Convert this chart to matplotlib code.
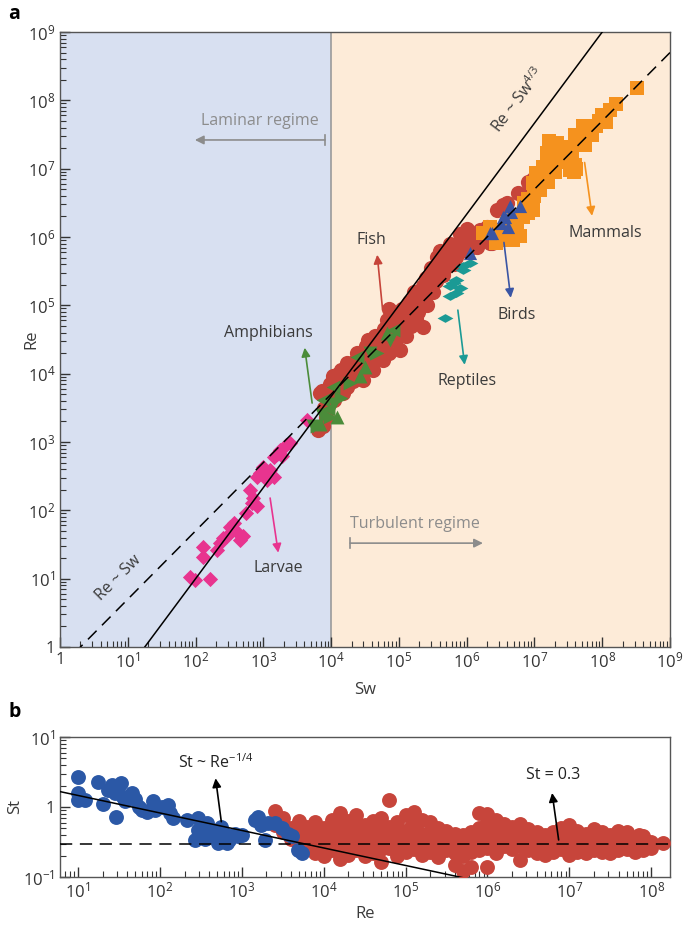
import numpy as np
import matplotlib
matplotlib.use('Agg')
import matplotlib.pyplot as plt
from matplotlib.ticker import LogLocator, FuncFormatter, NullFormatter

plt.rcParams['font.family'] = ['Open Sans', 'DejaVu Sans']
plt.rcParams['mathtext.fontset'] = 'custom'
plt.rcParams['mathtext.rm'] = 'Open Sans'
plt.rcParams['mathtext.it'] = 'Open Sans:italic'
plt.rcParams['mathtext.bf'] = 'Open Sans:bold'

# ---------------- Panel a data: (log10 Sw, log10 Re) ----------------
larvae_lsw = [1.92, 1.99, 2.21, 2.11, 2.11, 2.31, 2.36, 2.46, 2.51, 2.56, 2.65, 2.70, 2.75, 2.83,
              2.90, 2.85, 2.90, 2.95, 3.00, 3.05, 3.10, 3.15, 3.20, 3.24, 3.34, 3.39, 3.15, 3.64,
              2.40, 2.60, 2.80, 3.28]
larvae_lre = [1.03, 0.98, 1.00, 1.47, 1.32, 1.42, 1.52, 1.62, 1.76, 1.81, 1.57, 1.62, 1.96, 2.11,
              2.06, 2.18, 2.49, 2.54, 2.64, 2.45, 2.59, 2.78, 2.83, 2.88, 2.96, 2.98, 2.49, 3.32,
              1.60, 1.70, 2.30, 2.80]

amph_lsw = [3.74, 3.79, 3.83, 3.88, 3.86, 3.98, 4.08, 4.03, 4.05, 4.28, 4.42, 4.38, 4.57, 4.67,
            4.82, 4.92, 4.87, 4.15, 4.50, 3.95]
amph_lre = [3.23, 3.23, 3.26, 3.62, 3.40, 3.37, 3.37, 3.81, 3.55, 3.86, 3.96, 4.25, 4.30, 4.30,
            4.59, 4.64, 4.49, 3.65, 4.10, 3.48]

fish_lsw = [3.81, 3.86, 3.88, 3.93, 3.83, 3.95, 4.03, 4.00, 4.08, 4.12, 4.15, 4.23, 4.23, 4.20,
            4.30, 4.35, 4.40, 4.47, 4.45, 4.52, 4.52, 4.58, 4.62, 4.62, 4.67, 4.70, 4.77, 4.75,
            4.82, 4.80, 4.87, 4.90, 4.85, 4.97, 5.01, 5.00, 5.05, 5.11, 5.10, 5.18, 5.20, 5.26,
            5.25, 5.30, 5.36, 5.36, 5.40, 5.45, 5.51, 5.50, 5.56, 5.58, 5.62, 5.65, 5.70, 5.72,
            5.78, 5.80, 5.85, 5.88, 5.95, 5.95, 6.05, 6.00, 6.10, 6.15, 6.20, 6.34, 6.37, 6.30,
            6.54, 6.86, 6.93, 6.90, 7.08, 7.00,
            3.90, 3.98, 4.05, 4.10, 4.18, 4.28, 4.33, 4.38, 4.42, 4.55, 4.60, 4.65, 4.72, 4.78,
            4.85, 4.92, 4.95, 5.05, 5.08, 5.15, 5.15, 5.22, 5.28, 5.33, 5.40, 5.42, 5.48, 5.55,
            5.60, 5.68, 5.75, 5.82, 5.90, 6.00, 6.08, 6.25, 6.45, 6.60, 6.75, 6.98]
fish_lre = [3.18, 3.74, 3.23, 3.37, 3.71, 3.60, 3.96, 3.75, 3.70, 3.88, 4.05, 3.81, 4.15, 3.95,
            4.02, 4.18, 4.10, 3.91, 4.28, 4.25, 4.40, 4.12, 4.06, 4.35, 4.40, 4.22, 4.20, 4.52,
            4.79, 4.40, 4.49, 4.65, 4.95, 4.79, 4.35, 4.60, 4.75, 4.89, 4.55, 4.70, 4.95, 5.08,
            4.80, 5.00, 4.69, 5.28, 5.15, 5.30, 5.42, 5.20, 5.71, 5.50, 5.60, 5.45, 5.62, 5.80,
            5.70, 5.76, 5.71, 5.90, 6.01, 5.85, 6.06, 5.80, 5.95, 5.86, 6.10, 5.91, 5.91, 6.15,
            6.47, 6.59, 6.69, 6.80, 6.89, 6.75,
            3.50, 3.85, 3.62, 4.00, 3.72, 4.10, 3.90, 4.30, 4.02, 4.50, 4.20, 4.55, 4.35, 4.65,
            4.30, 4.85, 4.50, 4.95, 4.65, 5.05, 4.80, 5.20, 4.90, 5.20, 5.40, 5.00, 5.55, 5.35,
            5.80, 5.55, 5.90, 5.60, 6.05, 6.12, 5.85, 6.00, 6.40, 6.50, 6.65, 6.85]

rept_lsw = [6.05, 5.95, 5.85, 5.75, 5.85, 5.75, 5.90, 5.68, 5.95, 5.80]
rept_lre = [5.62, 5.52, 5.37, 5.28, 5.18, 5.13, 5.25, 4.81, 5.57, 5.32]

bird_lsw = [6.05, 6.34, 6.37, 6.51, 6.56, 6.61, 6.66, 6.78, 6.64, 6.54]
bird_lre = [5.76, 6.06, 6.06, 6.20, 6.30, 6.15, 6.37, 6.45, 6.45, 6.30]

mamm_lsw = [8.51, 8.11, 8.06, 8.00, 7.91, 7.82, 7.72, 7.67, 7.60, 7.52, 7.47, 7.42, 7.37, 7.33,
            7.28, 7.23, 7.18, 7.13, 7.08, 7.03, 6.98, 6.98, 6.90, 6.83, 6.78, 6.74, 6.69, 6.64,
            6.60, 6.44, 6.44, 6.34, 6.34, 6.24,
            7.95, 7.75, 7.55, 7.40, 7.30, 7.15, 7.00, 6.90, 6.85, 6.70, 6.55, 6.50, 7.60, 7.85,
            8.20, 7.25, 7.35, 7.20, 7.22, 7.15, 7.62, 7.58]
mamm_lre = [8.18, 7.86, 7.69, 7.78, 7.62, 7.57, 7.62, 7.42, 7.50, 6.98, 7.32, 7.15, 7.18, 7.37,
            7.05, 7.13, 7.23, 7.03, 6.69, 6.93, 6.79, 6.40, 6.55, 6.30, 6.01, 6.15, 5.96, 6.01,
            6.20, 5.91, 6.06, 6.15, 6.06, 6.06,
            7.70, 7.35, 7.25, 7.30, 6.95, 6.85, 6.60, 6.35, 6.50, 6.25, 6.10, 5.95, 7.05, 7.50,
            7.95, 7.25, 7.10, 6.80, 7.40, 6.95, 7.00, 6.95]

# ---------------- Panel b data: (log10 Re, log10 St) ----------------
b_blue_lre = [1.00, 1.00, 1.00, 1.09, 1.25, 1.31, 1.37, 1.41, 1.45, 1.47, 1.49, 1.53, 1.55, 1.57,
              1.66, 1.70, 1.74, 1.78, 1.84, 1.92, 1.94, 2.02, 2.10, 2.12, 2.16, 2.33, 2.47, 2.51,
              2.47, 2.59, 2.63, 2.67, 2.75, 2.80, 2.84, 2.92, 2.96, 3.00, 3.16, 3.20, 3.24, 3.28,
              3.32, 3.41, 3.49, 3.57, 3.61, 3.69, 3.73, 2.43, 2.55, 2.71, 2.82, 2.57]
b_blue_lst = [0.43, 0.20, 0.10, 0.10, 0.36, 0.05, 0.24, 0.31, 0.20, -0.14, 0.27, 0.34, 0.15, 0.08,
              0.20, 0.12, 0.00, -0.04, -0.07, 0.08, -0.04, 0.00, 0.03, -0.09, -0.16, -0.19, -0.16, -0.28,
              -0.33, -0.30, -0.38, -0.42, -0.28, -0.38, -0.47, -0.38, -0.42, -0.40, -0.19, -0.14, -0.26, -0.47,
              -0.23, -0.23, -0.30, -0.38, -0.42, -0.61, -0.66, -0.47, -0.45, -0.52, -0.52, -0.23]

b_red_lre = [3.4, 3.4, 3.5, 3.5, 3.6, 3.6, 3.7, 3.7, 3.7, 3.8, 3.8, 3.8, 3.9, 3.9, 3.9, 3.9,
             4.0, 4.0, 4.0, 4.0, 4.1, 4.1, 4.1, 4.1, 4.2, 4.2, 4.2, 4.2, 4.2, 4.3, 4.3, 4.3, 4.3,
             4.4, 4.4, 4.4, 4.4, 4.5, 4.5, 4.5, 4.5, 4.6, 4.6, 4.6, 4.6, 4.7, 4.7, 4.7, 4.7, 4.7,
             4.8, 4.8, 4.8, 4.8, 4.9, 4.9, 4.9, 4.9, 5.0, 5.0, 5.0, 5.0, 5.1, 5.1, 5.1, 5.1,
             5.2, 5.2, 5.2, 5.2, 5.3, 5.3, 5.3, 5.3, 5.4, 5.4, 5.4, 5.4, 5.5, 5.5, 5.5,
             5.6, 5.6, 5.6, 5.6, 5.7, 5.7, 5.7, 5.7, 5.8, 5.8, 5.8, 5.8, 5.9, 5.9, 5.9, 5.9,
             6.0, 6.0, 6.0, 6.0, 6.0, 6.1, 6.1, 6.1, 6.1, 6.2, 6.2, 6.2, 6.3, 6.3, 6.3,
             6.4, 6.4, 6.4, 6.4, 6.5, 6.5, 6.5, 6.6, 6.6, 6.6, 6.7, 6.7, 6.7, 6.8, 6.8, 6.8,
             6.9, 6.9, 6.9, 7.0, 7.0, 7.0, 7.0, 7.1, 7.1, 7.1, 7.2, 7.2, 7.2, 7.3, 7.3, 7.3,
             7.4, 7.4, 7.4, 7.5, 7.5, 7.5, 7.6, 7.6, 7.6, 7.7, 7.7, 7.7, 7.8, 7.8, 7.8,
             7.9, 7.9, 7.9, 8.0, 8.0, 8.15,
             4.05, 4.25, 4.45, 4.65, 4.85, 5.05, 5.25, 5.45, 5.95, 6.05, 6.15, 6.35, 6.55,
             6.75, 6.95, 7.15, 7.35, 7.55, 7.75, 7.85]
b_red_lst = [-0.05, -0.25, -0.15, -0.35, -0.30, -0.45, -0.20, -0.40, -0.55, -0.28, -0.45, -0.60,
             -0.22, -0.38, -0.52, -0.66, -0.30, -0.45, -0.58, -0.70, -0.18, -0.35, -0.50, -0.62,
             -0.08, -0.28, -0.44, -0.60, -0.74, -0.20, -0.38, -0.55, -0.68, -0.12, -0.30, -0.48, -0.62,
             -0.25, -0.42, -0.56, -0.70, -0.20, -0.36, -0.50, -0.66, -0.15, -0.33, -0.47, -0.60, -0.79,
             0.10, -0.28, -0.44, -0.58, -0.22, -0.40, -0.55, -0.70, -0.12, -0.35, -0.50, -0.64,
             -0.07, -0.25, -0.45, -0.60, -0.18, -0.38, -0.52, -0.68, -0.21, -0.36, -0.50, -0.64,
             -0.30, -0.44, -0.58, -0.72, -0.34, -0.48, -0.62,
             -0.38, -0.52, -0.66, -0.83, -0.40, -0.55, -0.70, -0.92, -0.36, -0.50, -0.64, -0.85,
             -0.08, -0.30, -0.48, -0.62, -0.10, -0.22, -0.44, -0.58, -0.85, -0.18, -0.35, -0.50, -0.66,
             -0.24, -0.40, -0.55, -0.28, -0.45, -0.60, -0.24, -0.42, -0.56, -0.76, -0.32, -0.48, -0.62,
             -0.36, -0.52, -0.66, -0.40, -0.55, -0.68, -0.35, -0.50, -0.64, -0.30, -0.46, -0.60,
             -0.26, -0.42, -0.56, -0.68, -0.34, -0.50, -0.64, -0.38, -0.52, -0.66, -0.32, -0.48, -0.62,
             -0.36, -0.52, -0.64, -0.40, -0.54, -0.66, -0.34, -0.50, -0.62, -0.36, -0.46, -0.60,
             -0.44, -0.56, -0.64, -0.42, -0.52, -0.62, -0.50, -0.58, -0.52,
             -0.52, -0.40, -0.35, -0.42, -0.50, -0.30, -0.45, -0.40, -0.40, -0.35, -0.42, -0.50, -0.40,
             -0.45, -0.52, -0.42, -0.44, -0.46, -0.52, -0.40]

# ---------------- colours ----------------
C_LARV = '#e8348f'
C_AMPH = '#4b8c3a'
C_FISH = '#c6443a'
C_REPT = '#1b9a95'
C_BIRD = '#3a55a4'
C_MAMM = '#f5921e'
C_BBLUE = '#2b58a6'
C_BRED = '#c7453b'
BG_LAM = '#d8e0f1'
BG_TUR = '#fdebd8'
TXT = '#3a3a3a'
GRAY = '#8c8c8c'

def p(v):
    return 10.0 ** np.asarray(v)

def fmt(v, pos):
    e = int(round(np.log10(v)))
    if e == 0:
        return '1'
    return r'$10^{%d}$' % e

fig = plt.figure(figsize=(6.85, 9.35), dpi=100)
axa = fig.add_axes([60/685, 1-647/935, 610/685, (647-32)/935])
axb = fig.add_axes([60/685, 1-877/935, 610/685, (877-737)/935])

# ---------------- Panel a ----------------
axa.set_xscale('log'); axa.set_yscale('log')
axa.set_xlim(1, 1e9); axa.set_ylim(1, 1e9)
axa.axvspan(1, 1e4, color=BG_LAM, zorder=0, lw=0)
axa.axvspan(1e4, 1e9, color=BG_TUR, zorder=0, lw=0)
axa.axvline(1e4, color='#9a9a9a', lw=1.2, zorder=1)

axa.scatter(p(larvae_lsw), p(larvae_lre), marker='D', s=60, color=C_LARV, lw=0, zorder=3)
axa.scatter(p(fish_lsw), p(fish_lre), marker='o', s=120, color=C_FISH, lw=0, zorder=3)
amk = ['v', '>', '^', '<']
for i in range(len(amph_lsw)):
    axa.scatter(p(amph_lsw[i]), p(amph_lre[i]), marker=amk[i % 4], s=100, color=C_AMPH, lw=0, zorder=4)
hdiamond = [(-1, 0), (0, 0.55), (1, 0), (0, -0.55), (-1, 0)]
axa.scatter(p(rept_lsw), p(rept_lre), marker=hdiamond, s=130, color=C_REPT, lw=0, zorder=4)
axa.scatter(p(mamm_lsw), p(mamm_lre), marker='s', s=95, color=C_MAMM, lw=0, zorder=3)
axa.scatter(p(bird_lsw), p(bird_lre), marker='^', s=90, color=C_BIRD, lw=0, zorder=4)

sw = np.logspace(0, 9, 300)
axa.plot(sw, (sw/17.8)**(4/3), color='k', lw=1.1, zorder=5)
axa.plot(sw, 0.5*sw, color='k', lw=1.1, dashes=(8, 5), zorder=5)

axa.xaxis.set_major_locator(LogLocator(base=10, numticks=20))
axa.yaxis.set_major_locator(LogLocator(base=10, numticks=20))
axa.xaxis.set_minor_locator(LogLocator(base=10, subs=np.arange(2, 10), numticks=20))
axa.yaxis.set_minor_locator(LogLocator(base=10, subs=np.arange(2, 10), numticks=20))
axa.xaxis.set_major_formatter(FuncFormatter(fmt))
axa.yaxis.set_major_formatter(FuncFormatter(fmt))
axa.xaxis.set_minor_formatter(NullFormatter())
axa.yaxis.set_minor_formatter(NullFormatter())
axa.tick_params(which='both', direction='in', top=False, right=False, labelsize=12, colors='#333333')
axa.tick_params(which='major', length=7, width=1)
axa.tick_params(which='minor', length=4, width=0.8)
for s in axa.spines.values():
    s.set_color('#555555'); s.set_linewidth(1)
axa.set_xlabel('Sw', fontsize=12, color=TXT)
axa.set_ylabel('Re', fontsize=12, color=TXT)
axa.xaxis.set_label_coords(0.5, -0.057)
axa.yaxis.set_label_coords(-0.033, 0.5)

def arrow(ax, tail, head, c, lw=1.2):
    ax.annotate('', xy=p(head), xytext=p(tail),
                arrowprops=dict(arrowstyle='-|>', color=c, lw=lw, mutation_scale=13,
                                shrinkA=0, shrinkB=0), zorder=6)

# regime labels
axa.text(p(2.95), p(7.70), 'Laminar regime', color=GRAY, fontsize=11.5, ha='center', va='center')
arrow(axa, (3.91, 7.42), (1.99, 7.42), GRAY)
axa.plot(p([3.91, 3.91]), p([7.35, 7.49]), color=GRAY, lw=1.2)
axa.text(p(5.24), p(1.80), 'Turbulent regime', color=GRAY, fontsize=11.5, ha='center', va='center')
arrow(axa, (4.28, 1.52), (6.24, 1.52), GRAY)
axa.plot(p([4.28, 4.28]), p([1.45, 1.59]), color=GRAY, lw=1.2)

# group labels
axa.text(p(4.60), p(5.96), 'Fish', color=TXT, fontsize=11.5, ha='center', va='center')
arrow(axa, (4.76, 4.93), (4.68, 5.74), C_FISH)
axa.text(p(3.07), p(4.60), 'Amphibians', color=TXT, fontsize=11.5, ha='center', va='center')
arrow(axa, (3.72, 3.57), (3.61, 4.38), C_AMPH)
axa.text(p(6.00), p(3.89), 'Reptiles', color=TXT, fontsize=11.5, ha='center', va='center')
arrow(axa, (5.87, 4.93), (5.97, 4.13), C_REPT)
axa.text(p(6.74), p(4.86), 'Birds', color=TXT, fontsize=11.5, ha='center', va='center')
arrow(axa, (6.55, 5.92), (6.65, 5.11), C_BIRD)
axa.text(p(8.05), p(6.06), 'Mammals', color=TXT, fontsize=11.5, ha='center', va='center')
arrow(axa, (7.74, 7.09), (7.85, 6.31), C_MAMM)
axa.text(p(3.22), p(1.16), 'Larvae', color=TXT, fontsize=11.5, ha='center', va='center')
arrow(axa, (3.10, 2.18), (3.22, 1.38), C_LARV)

axa.text(p(6.76), p(8.00), r'Re ~ Sw$^{4/3}$', color=TXT, fontsize=11.5, ha='center', va='center',
         rotation=53, rotation_mode='anchor')
axa.text(p(0.86), p(1.01), 'Re ~ Sw', color=TXT, fontsize=11.5, ha='center', va='center',
         rotation=45, rotation_mode='anchor')

# ---------------- Panel b ----------------
axb.set_xscale('log'); axb.set_yscale('log')
axb.set_xlim(10**0.78, 10**8.23); axb.set_ylim(0.1, 10)
axb.scatter(p(b_red_lre), p(b_red_lst), s=115, color=C_BRED, lw=0, zorder=3)
axb.scatter(p(b_blue_lre), p(b_blue_lst), s=115, color=C_BBLUE, lw=0, zorder=3)
re = np.logspace(0.5, 8.5, 300)
axb.plot(re, 2.6*re**-0.25, color='k', lw=1.1, zorder=5)
axb.axhline(0.3, color='k', lw=1.1, dashes=(8, 5), zorder=5)

axb.xaxis.set_major_locator(LogLocator(base=10, numticks=20))
axb.yaxis.set_major_locator(LogLocator(base=10, numticks=20))
axb.xaxis.set_minor_locator(LogLocator(base=10, subs=np.arange(2, 10), numticks=20))
axb.yaxis.set_minor_locator(LogLocator(base=10, subs=np.arange(2, 10), numticks=20))
axb.xaxis.set_major_formatter(FuncFormatter(fmt))
axb.yaxis.set_major_formatter(FuncFormatter(fmt))
axb.xaxis.set_minor_formatter(NullFormatter())
axb.yaxis.set_minor_formatter(NullFormatter())
axb.tick_params(which='both', direction='in', top=False, right=False, labelsize=12, colors='#333333')
axb.tick_params(which='major', length=7, width=1)
axb.tick_params(which='minor', length=4, width=0.8)
for s in axb.spines.values():
    s.set_color('#555555'); s.set_linewidth(1)
axb.set_xlabel('Re', fontsize=12, color=TXT)
axb.set_ylabel('St', fontsize=12, color=TXT)
axb.xaxis.set_label_coords(0.5, -0.207)
axb.yaxis.set_label_coords(-0.061, 0.5)

axb.text(p(2.68), p(0.64), r'St ~ Re$^{-1/4}$', color='#222222', fontsize=11.5, ha='center', va='center')
arrow(axb, (2.75, -0.21), (2.68, 0.41), 'k')
axb.text(p(6.80), p(0.46), 'St = 0.3', color='#222222', fontsize=11.5, ha='center', va='center')
arrow(axb, (6.87, -0.47), (6.79, 0.20), 'k')

fig.text(8/685, 1-14/935, 'a', fontsize=14, fontweight='bold', va='center', ha='left')
fig.text(8/685, 1-712/935, 'b', fontsize=14, fontweight='bold', va='center', ha='left')

fig.savefig('out.png', dpi=100)
